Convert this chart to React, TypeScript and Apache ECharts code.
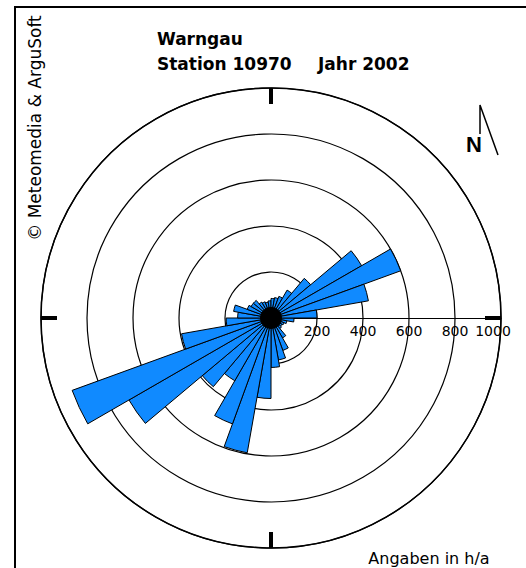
import React, { useEffect, useRef } from "react";
import * as echarts from "echarts";

// Wind direction sectors, 10° wide, clockwise from north (0–10°, 10–20°, …)
const sectorLabels: string[] = Array.from({ length: 36 }, (_, i) => `${i * 10}°`);

// Hours per year for each sector, same order as sectorLabels
const hoursPerYear: number[] = [
  85, 90, 100, 140, 225, 455, 600, 430, 200, // 0 – 90
  100, 70, 60, 55, 60, 100, 150, 185, 215,   // 90 – 180
  350, 595, 490, 315, 390, 713, 920, 395, 195, // 180 – 270
  145, 165, 110, 100, 100, 80, 75, 70, 75,   // 270 – 360
];

const ringTicks: number[] = [200, 400, 600, 800, 1000];

const titleLine1 = "Warngau";
const stationText = "Station 10970";
const yearText = "Jahr 2002";
const copyrightText = "© Meteomedia & ArguSoft";
const unitText = "Angaben in h/a";

export default function App() {
  const ref = useRef<HTMLDivElement>(null);

  useEffect(() => {
    if (!ref.current) return;
    const chart = echarts.init(ref.current, undefined, { renderer: "svg" });

    // The radius axis points east (startAngle 0), so sector k (bearing 10k)
    // is the (k - 9)th category going clockwise from east.
    const n = sectorLabels.length;
    const rotLabels = sectorLabels.map((_, i) => sectorLabels[(i + 9) % n]);
    const rotValues = hoursPerYear.map((_, i) => hoursPerYear[(i + 9) % n]);

    chart.setOption({
      animation: false,
      backgroundColor: "#ffffff",
      polar: { center: [271, 318], radius: 230 },
      angleAxis: {
        type: "category",
        data: rotLabels,
        startAngle: 0,
        clockwise: true,
        axisLine: { show: true, lineStyle: { color: "#000", width: 1.5 } },
        axisTick: {
          show: true,
          interval: 8,
          inside: true,
          length: 16,
          lineStyle: { color: "#000", width: 4 },
        },
        axisLabel: { show: false },
        splitLine: { show: false },
      },
      radiusAxis: {
        type: "value",
        min: 0,
        max: ringTicks[ringTicks.length - 1],
        interval: ringTicks[0],
        axisLine: { show: true, lineStyle: { color: "#000", width: 1 } },
        axisTick: { show: false },
        axisLabel: {
          show: true,
          showMinLabel: false,
          color: "#000",
          fontFamily: "DejaVu Sans",
          fontSize: 14,
          margin: -6,
          verticalAlign: "top",
          formatter: (v: number) => (v === 1000 ? `{m|${v}}` : `${v}`),
          rich: { m: { padding: [0, 16, 0, 0], fontFamily: "DejaVu Sans", fontSize: 14, color: "#000" } },
        },
        splitLine: { show: true, lineStyle: { color: "#000", width: 1.2 } },
        z: 1,
      },
      series: [
        {
          type: "bar",
          coordinateSystem: "polar",
          data: rotValues,
          barCategoryGap: "0%",
          itemStyle: { color: "#108aff", borderColor: "#000", borderWidth: 1 },
          z: 3,
        },
      ],
      graphic: [
        {
          type: "rect",
          shape: { x: 15, y: 7, width: 560, height: 620 },
          style: { fill: "none", stroke: "#000", lineWidth: 2 },
        },
        {
          // dark hub where the sector outlines converge
          type: "circle",
          shape: { cx: 271, cy: 318, r: 11 },
          style: { fill: "#000" },
          z: 10,
        },
        {
          type: "text",
          x: 157,
          y: 39,
          style: { text: titleLine1, font: "bold 17px 'DejaVu Sans'", fill: "#000", verticalAlign: "middle" },
        },
        {
          type: "text",
          x: 157,
          y: 64,
          style: { text: stationText, font: "bold 17px 'DejaVu Sans'", fill: "#000", verticalAlign: "middle" },
        },
        {
          type: "text",
          x: 318,
          y: 64,
          style: { text: yearText, font: "bold 17px 'DejaVu Sans'", fill: "#000", verticalAlign: "middle" },
        },
        {
          type: "text",
          x: 35,
          y: 128,
          rotation: Math.PI / 2,
          style: {
            text: copyrightText,
            font: "17px 'DejaVu Sans'",
            fill: "#000",
            align: "center",
            verticalAlign: "middle",
          },
        },
        {
          type: "text",
          x: 429,
          y: 558,
          style: { text: unitText, font: "16px 'DejaVu Sans'", fill: "#000", align: "center", verticalAlign: "middle" },
        },
        {
          type: "text",
          x: 474,
          y: 144,
          style: { text: "N", font: "bold 22px 'Liberation Sans'", fill: "#000", align: "center", verticalAlign: "middle" },
        },
        {
          type: "polyline",
          shape: { points: [[480, 134], [480, 105], [498, 155]] },
          style: { stroke: "#000", lineWidth: 1.5, fill: "none" },
        },
      ],
    });

    return () => chart.dispose();
  }, []);

  return (
    <div
      ref={ref}
      style={{ position: "absolute", left: 0, top: 0, width: 526, height: 568 }}
    />
  );
}
